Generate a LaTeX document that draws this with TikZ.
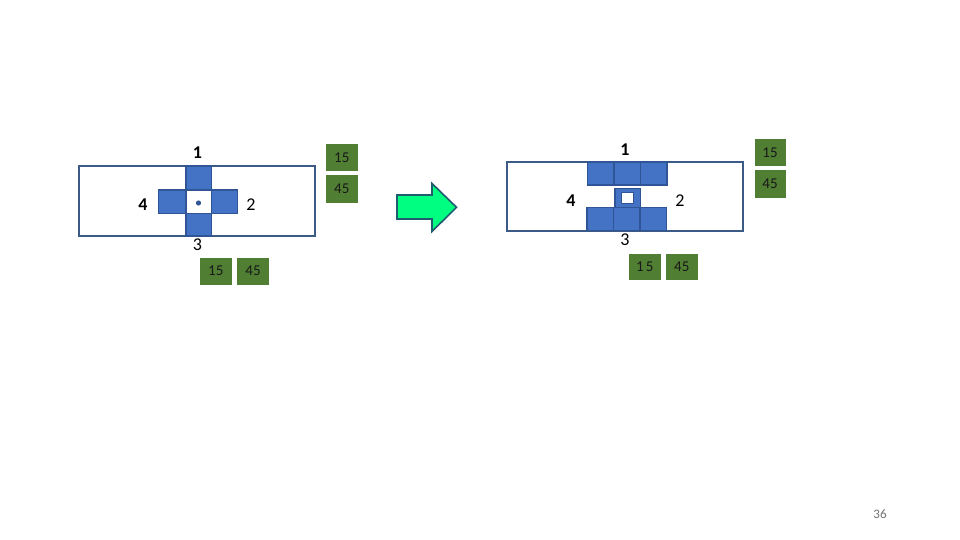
\documentclass[tikz,border=0pt]{standalone}
\usepackage{fontspec}
\setmainfont{Carlito}
\begin{document}
\begin{tikzpicture}[x=1pt,y=-1pt,
  frame/.style={draw=framec,line width=2pt},
  cell/.style={draw=cellline,fill=cellfill,line width=1.6pt},
  gbox/.style={fill=gfill,text=black!90,font=\fontsize{15}{15}\selectfont},
  lbl/.style={text=black,font=\fontsize{18}{18}\selectfont},
  lblb/.style={text=black,font=\fontsize{18}{18}\selectfont\bfseries}]
\definecolor{framec}{HTML}{3B5A86}
\definecolor{cellline}{HTML}{2F5597}
\definecolor{cellfill}{HTML}{4472C4}
\definecolor{gfill}{HTML}{507E32}
\definecolor{arrfill}{HTML}{00FF80}
\definecolor{arrline}{HTML}{1F5C6E}
\useasboundingbox (0,0) rectangle (960,540);
\fill[white] (0,0) rectangle (960,540);

% ---- left panel ----
\draw[frame] (79,166) rectangle (315,236);
\draw[cell] (186,166) rectangle (211.5,190);
\draw[cell] (158.5,190) rectangle (186,213.5);
\draw[cell] (211.5,190) rectangle (237.5,213.5);
\draw[cell] (186,213.5) rectangle (211.5,236);
\draw[draw=cellline,fill=white,line width=1.6pt] (186,190) rectangle (211.5,213.5);
\fill[cellline] (198.5,203) circle (2.6);
\node[lblb] (l1) at (197.5,153) {1};
\node[lblb] (l4) at (143,205) {4};
\node[lbl] (l2) at (251,205) {2};
\node[lbl] (l3) at (197.5,245) {3};
\fill[gfill] (326,144.5) rectangle (357.5,171);
\node[gbox] (g1) at (341.75,157.75) {15};
\fill[gfill] (326,175) rectangle (357.5,202.5);
\node[gbox] (g2) at (341.75,188.75) {45};
\fill[gfill] (200,257.5) rectangle (231.5,284.5);
\node[gbox] (g3) at (215.75,271) {15};
\fill[gfill] (237,257.5) rectangle (269,284.5);
\node[gbox] (g4) at (253,271) {45};

% ---- arrow ----
\draw[fill=arrfill,draw=arrline,line width=1.6pt,line join=miter]
  (397,195) -- (432,195) -- (432,183.5) -- (456.5,207.3) -- (432,231.5) -- (432,219) -- (397,219) -- cycle;

% ---- right panel ----
\draw[frame] (507,162) rectangle (743,230.5);
\draw[cell] (587.5,162) rectangle (614,185);
\draw[cell] (614,162) rectangle (640.5,185);
\draw[cell] (640.5,162) rectangle (667,185);
\draw[cell] (587,207.5) rectangle (613.5,230.5);
\draw[cell] (613.5,207.5) rectangle (640,230.5);
\draw[cell] (640,207.5) rectangle (666.5,230.5);
\draw[cell] (615,188.5) rectangle (640.5,207.5);
\draw[draw=cellline,fill=white,line width=1.6pt] (621.5,192.5) rectangle (633.5,203.5);
\node[lblb] (r1) at (625,150) {1};
\node[lblb] (r4) at (571,201) {4};
\node[lbl] (r2) at (680,201) {2};
\node[lbl] (r3) at (625,239.5) {3};
\fill[gfill] (754.5,139.5) rectangle (785.5,166.5);
\node[gbox] (h1) at (770,153) {15};
\fill[gfill] (754.5,170) rectangle (785.5,197.5);
\node[gbox] (h2) at (770,183.75) {45};
\fill[gfill] (629,253.5) rectangle (660.5,280);
\node[gbox] (h3) at (644.75,266.75) {1\kern2pt5};
\fill[gfill] (666,253.5) rectangle (697.5,280);
\node[gbox] (h4) at (681.75,266.75) {45};

% page number
\node[text=black!55,font=\fontsize{13}{13}\selectfont] (pn) at (880,514) {36};
\end{tikzpicture}
\end{document}
